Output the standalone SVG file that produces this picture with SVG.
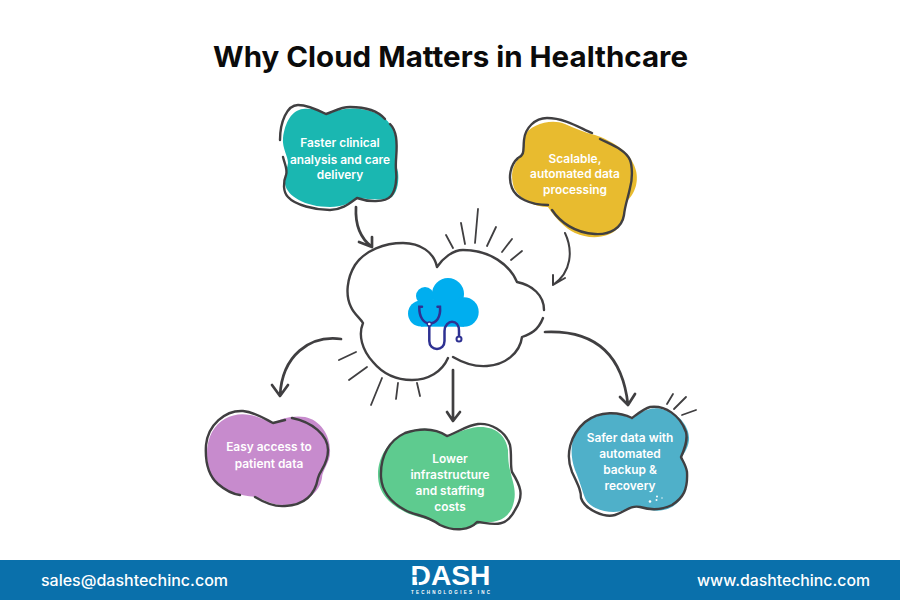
<svg xmlns="http://www.w3.org/2000/svg" width="900" height="600" viewBox="0 0 900 600">
<style>
.ol{fill:none;stroke:#403f41;stroke-width:2.4;stroke-linecap:round;stroke-linejoin:round}
.ar{fill:none;stroke:#403f41;stroke-width:2.7;stroke-linecap:round;stroke-linejoin:round}
.ray{fill:none;stroke:#403f41;stroke-width:1.8;stroke-linecap:round}
.lb{font-family:"Inter","Liberation Sans",sans-serif;font-size:11.9px;font-weight:600;fill:#fff;text-anchor:middle}
.ft{font-family:"Inter","Liberation Sans",sans-serif;font-size:15.5px;font-weight:500;fill:#fff}
.st{fill:none;stroke:#2e3192;stroke-width:2.5;stroke-linecap:round}
</style>
<rect width="900" height="600" fill="#fff"/>
<text id="title" x="450.500" y="67" text-anchor="middle" font-family="Inter,'Liberation Sans',sans-serif" font-size="29" font-weight="700" fill="#0b0b0b" textLength="475" lengthAdjust="spacingAndGlyphs">Why Cloud Matters in Healthcare</text>

<g id="connectors">
<path class="ar" d="M356 207C355 225 360 238 372 247M359 242L372 247L372 237"/>
<path class="ar" style="stroke-width:2" d="M565 233C573 250 572 272 553 285M565 278L553 285L553 275"/>
<path class="ar" d="M341 339C310 335 282 355 280 396M272 385L280 396L288 385"/>
<path class="ar" d="M453 370L453 421M447 412L453 421L460 412"/>
<path class="ar" d="M545 332C590 330 622 350 628 405M620 397L628 405L635 394"/>
</g>

<g id="node-center">
<path class="ol" d="M437 267C434 252 420 243 403 243C385 243 365 250 355 265C347 278 345 295 351 307C354 314 360 318 363 323C358 335 362 350 373 362C383 374 397 380 412 380C428 380 442 372 448 358M453 357C465 364 475 367 487 366C505 365 520 353 522 337C530 334 538 331 543 318M544 310C544 295 532 285 517 282C510 265 490 250 463 250C453 250 443 258 437 267"/>
<g class="ray">
<path d="M446 235L453 248M461 223L465 244M478 209L475 243M496 227L487 246M512 239L502 252M522 251L511 260M339 360L356 352M349 380L367 367M371 405L382 378M396 399L398 383M420 396L417 383"/>
</g>
<g fill="#00aeef">
<circle cx="421" cy="313.500" r="13"/><circle cx="425" cy="296" r="9"/><circle cx="448" cy="294" r="16"/><circle cx="464" cy="312" r="14.700"/><rect x="421" y="300" width="43" height="26.700"/>
</g>
<path class="st" d="M422 306.700L419.300 306.700C419 318 424 323 429.300 323.500C436 323 441 318 440 306.700L437.500 306.700M429.300 325L429.300 341C429.300 346 433 349 437 349C441 349 444.500 346 444.500 341L444.500 331C444.500 325 449 321.700 452 321.700C456 321.700 459 325 459 331L459 335"/>
<circle cx="429.300" cy="324" r="2" fill="#fff" stroke="#2e3192" stroke-width="1.300"/>
<circle cx="459" cy="339" r="2.500" fill="#fff" stroke="#2e3192" stroke-width="2"/>
</g>

<g id="node-faster">
<path fill="#1ab7b1" d="M328 114C320 110 310 108 303 109C292 110 285 122 283 138C282 148 288 156 288 163C287 170 284 176 285 184C287 196 305 207 330 207C342 207 350 203 359 198C368 199 385 201 392 197C398 191 399 180 398 172C396 165 396 160 397 150C397 135 392 122 380 115C365 107 345 106 328 114Z"/>
<path class="ol" d="M385 119C378 111 365 107 350 107C340 107 333 112 326 114C318 110 308 105 298 105C287 105 280 122 280 140M283 157C285 165 288 170 286 175C283 182 283 192 288 197C295 205 315 210 330 210C342 210 350 203 357 198C368 202 385 203 391 196C396 190 397 178 396 170C395 160 398 150 396 137C395 131 393 127 390 124"/>
<text class="lb" x="340" y="147">Faster clinical</text>
<text class="lb" x="340" y="163.500">analysis and care</text>
<text class="lb" x="340" y="179">delivery</text>
</g>

<g id="node-scalable">
<path fill="#e8bb2f" d="M524 136C530 124 552 118 565 124C575 128 585 133 595 135C610 140 628 150 634 165C640 178 636 192 628 200C622 207 627 218 618 228C610 238 590 240 575 233C565 228 555 218 548 207C535 207 520 200 514 188C510 175 512 165 520 157C525 152 522 145 524 136Z"/>
<path class="ol" d="M592 133C580 128 565 118 547 118C535 118 525 128 524 140C523 150 525 155 518 158C510 165 508 178 512 188C516 198 530 205 548 205M552 210C560 222 575 233 595 234C610 235 622 228 624 215C625 205 628 198 630 188C633 178 632 165 630 160C626 150 612 145 600 139"/>
<text class="lb" x="575" y="162.500">Scalable,</text>
<text class="lb" x="575" y="178">automated data</text>
<text class="lb" x="575" y="194">processing</text>
</g>

<g id="node-access">
<path fill="#c78bcd" d="M273 423C280 419 292 415 305 417C320 420 330 435 330 450C331 462 322 470 322 478C320 492 305 505 283 505C270 505 262 498 255 497C240 495 222 492 213 480C205 465 205 445 212 432C220 418 235 412 250 415C258 416 266 421 273 423Z"/>
<path class="ol" d="M285 420L273 423C265 419 255 412 243 411C225 410 208 425 206 445C205 460 208 475 218 484C225 490 232 494 240 495M255 497C265 503 275 507 285 506C305 505 315 495 318 478C320 470 328 465 328 450C328 435 312 422 292 418"/>
<text class="lb" x="269" y="451">Easy access to</text>
<text class="lb" x="269" y="467.500">patient data</text>
</g>

<g id="node-lower">
<path fill="#5ecb8f" d="M447 436C435 428 420 426 405 433C390 440 378 455 378 475C378 495 392 505 405 512C415 517 425 517 440 525C455 532 470 528 480 523C495 522 505 522 512 508C516 498 515 490 513 482C510 470 508 465 508 450C506 435 495 426 478 427C467 428 457 433 447 436Z"/>
<path class="ol" d="M447 436C435 428 420 428 405 433C390 440 380 455 381 477C382 492 392 503 405 510C415 516 425 514 440 525C455 532 470 530 477 522C490 523 505 530 515 510C525 495 520 485 512 472C510 465 512 455 510 445C505 430 490 423 478 424C467 425 457 433 447 436"/>
<text class="lb" x="450" y="462.500">Lower</text>
<text class="lb" x="450" y="478.500">infrastructure</text>
<text class="lb" x="450" y="494.500">and staffing</text>
<text class="lb" x="450" y="510.500">costs</text>
</g>

<g id="node-safer">
<path fill="#4fb0c9" d="M632 419C640 412 652 405 665 410C680 414 690 428 689 440C688 450 682 455 682 458C690 470 690 485 680 500C672 510 660 512 650 510C640 505 635 505 625 510C612 515 590 510 585 498C582 490 580 482 575 470C568 450 572 432 585 422C600 412 620 412 632 419Z"/>
<path class="ol" d="M632 418C620 412 600 410 585 422C570 435 565 455 572 472C578 485 581 490 581 498C585 510 605 518 615 515C625 512 630 505 640 507C650 510 662 510 672 505C683 498 688 490 687 472C686 465 682 460 681 457C685 448 688 440 686 432C680 415 665 405 650 407C645 408 640 412 632 418"/>
<g class="ray"><path d="M673 394L667 404M686 397L674 409M696 410L682 415"/></g>
<g fill="#fff"><circle cx="650" cy="501.500" r="1.300"/><circle cx="656.500" cy="500" r="1"/><circle cx="657" cy="496.500" r="1"/><circle cx="662" cy="498" r=".7"/></g>
<text class="lb" x="630" y="442">Safer data with</text>
<text class="lb" x="630" y="458">automated</text>
<text class="lb" x="630" y="474">backup &amp;</text>
<text class="lb" x="630" y="490">recovery</text>
</g>

<g id="footer">
<rect y="560" width="900" height="40" fill="#0a70ab"/>
<text class="ft" x="41" y="586" textLength="187" lengthAdjust="spacingAndGlyphs">sales@dashtechinc.com</text>
<text class="ft" x="697" y="586" textLength="173" lengthAdjust="spacingAndGlyphs">www.dashtechinc.com</text>
<text x="410.500" y="585" font-family="'Liberation Sans',sans-serif" font-size="28" font-weight="700" fill="#fff" textLength="80" lengthAdjust="spacingAndGlyphs">DASH</text>
<path d="M411 576H423M418 576V586" stroke="#0a70ab" stroke-width="1.500" fill="none"/>
<text x="411" y="594" font-family="'Liberation Sans',sans-serif" font-size="4.500" font-weight="700" fill="#fff" textLength="79">TECHNOLOGIES INC</text>
</g>
</svg>
